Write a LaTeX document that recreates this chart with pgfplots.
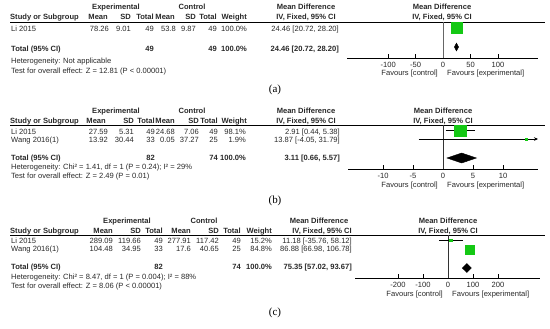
\documentclass[border=0pt]{standalone}
\usepackage{fontspec}
\setmainfont{Liberation Sans}
\newfontfamily\capfont{Liberation Serif}
\usepackage{pgfplots}
\pgfplotsset{compat=1.18}
\usetikzlibrary{arrows.meta}
\definecolor{fgreen}{RGB}{20,200,20}
\definecolor{txt}{RGB}{40,40,40}
\tikzset{t/.style={inner sep=0pt,text=txt,font=\fontsize{7.6}{8}\selectfont}}
\newcommand\txL[3]{\node[t,anchor=base west] at (#1,{-(#2)-2.7}) {#3};}
\newcommand\txR[3]{\node[t,anchor=base east] at (#1,{-(#2)-2.7}) {#3};}
\newcommand\txC[3]{\node[t,anchor=base] at (#1,{-(#2)-2.7}) {#3};}
\pgfplotsset{forest/.style={scale only axis, anchor=south west, clip=false,
  axis x line=bottom, axis y line=none, x axis line style={-, line width=0.6bp},
  tick align=inside, major tick length=4bp, xtick style={line width=0.6bp, black},
  x tick label style={inner sep=0pt, yshift=-4.5bp, text=txt, font=\fontsize{7.6}{8}\selectfont}}}
\begin{document}
\begin{tikzpicture}[x=1bp,y=1bp]
\path[use as bounding box] (0,0) rectangle (550,-328);
% ================= (a) =================
\txC{116}{7}{\bfseries Experimental}
\txC{192}{7}{\bfseries Control}
\txC{306}{7}{\bfseries Mean Difference}
\txC{442}{7}{\bfseries Mean Difference}
\txL{10}{17}{\bfseries Study or Subgroup}
\txR{108}{17}{\bfseries Mean}
\txR{131}{17}{\bfseries SD}
\txR{154}{17}{\bfseries Total}
\txR{175}{17}{\bfseries Mean}
\txR{196}{17}{\bfseries SD}
\txR{217}{17}{\bfseries Total}
\txR{247}{17}{\bfseries Weight}
\txR{336}{17}{\bfseries IV, Fixed, 95\% CI}
\txC{442}{17}{\bfseries IV, Fixed, 95\% CI}
\draw[line width=0.6bp] (10,-22) -- (545,-22);
\txL{11}{29}{Li 2015}
\txR{109}{29}{78.26}
\txR{131}{29}{9.01}
\txR{154}{29}{49}
\txR{176}{29}{53.8}
\txR{196}{29}{9.87}
\txR{217}{29}{49}
\txR{247}{29}{100.0\%}
\txR{339}{29}{24.46 [20.72, 28.20]}
\txL{11}{49}{\bfseries Total (95\% CI)}
\txR{154}{49}{\bfseries 49}
\txR{217}{49}{\bfseries 49}
\txR{247}{49}{\bfseries 100.0\%}
\txR{339}{49}{\bfseries 24.46 [20.72, 28.20]}
\txL{11}{61}{Heterogeneity: Not applicable}
\txL{11}{71}{Test for overall effect: Z = 12.81 (P < 0.00001)}
\txR{438}{73}{Favours [control]}
\txL{447}{73}{Favours [experimental]}
\node[font=\capfont\fontsize{11}{12}\selectfont, inner sep=0pt] at (275,-90) {(a)};
\begin{axis}[forest, at={(347bp,-58bp)}, width=191bp, height=36bp,
  xmin=-175, xmax=173, ymin=-58, ymax=-22,
  xtick={-100,-50,0,50,100}, xticklabels={-100,-50,0,50,100}]
\addplot[black!60, line width=0.6bp] coordinates {(0,-22) (0,-58)};
\addplot[black, line width=0.5bp] coordinates {(20.72,-27.7) (28.20,-27.7)};
\addplot[only marks, mark=square*, mark size=5.5bp, mark options={fill=fgreen, draw=fgreen}] coordinates {(24.46,-27.7)};
\addplot[fill=black, draw=black] coordinates {(20.72,-47) (24.46,-43) (28.20,-47) (24.46,-51)} --cycle;
\end{axis}
% ================= (b) =================
\txC{116}{111}{\bfseries Experimental}
\txC{192}{111}{\bfseries Control}
\txC{306}{111}{\bfseries Mean Difference}
\txC{443}{111}{\bfseries Mean Difference}
\txL{10}{121}{\bfseries Study or Subgroup}
\txR{106}{121}{\bfseries Mean}
\txR{134}{121}{\bfseries SD}
\txR{155}{121}{\bfseries Total}
\txR{175}{121}{\bfseries Mean}
\txR{199}{121}{\bfseries SD}
\txR{218}{121}{\bfseries Total}
\txR{247}{121}{\bfseries Weight}
\txR{336}{121}{\bfseries IV, Fixed, 95\% CI}
\txC{443}{121}{\bfseries IV, Fixed, 95\% CI}
\draw[line width=0.6bp] (10,-125) -- (545,-125);
\txL{11}{132}{Li 2015}
\txR{108}{132}{27.59}
\txR{134}{132}{5.31}
\txR{155}{132}{49}
\txR{175}{132}{24.68}
\txR{199}{132}{7.06}
\txR{218}{132}{49}
\txR{246}{132}{98.1\%}
\txR{340}{132}{2.91 [0.44, 5.38]}
\txL{11}{140}{Wang 2016(1)}
\txR{108}{140}{13.92}
\txR{134}{140}{30.44}
\txR{155}{140}{33}
\txR{175}{140}{0.05}
\txR{199}{140}{37.27}
\txR{218}{140}{25}
\txR{246}{140}{1.9\%}
\txR{340}{140}{13.87 [-4.05, 31.79]}
\txL{11}{158}{\bfseries Total (95\% CI)}
\txR{155}{158}{\bfseries 82}
\txR{218}{158}{\bfseries 74}
\txR{246}{158}{\bfseries 100.0\%}
\txR{340}{158}{\bfseries 3.11 [0.66, 5.57]}
\txL{11}{167}{Heterogeneity: Chi² = 1.41, df = 1 (P = 0.24); I² = 29\%}
\txL{11}{176}{Test for overall effect: Z = 2.49 (P = 0.01)}
\txR{438}{185}{Favours [control]}
\txL{447}{185}{Favours [experimental]}
\node[font=\capfont\fontsize{11}{12}\selectfont, inner sep=0pt] at (275,-201) {(b)};
\begin{axis}[forest, at={(348bp,-169bp)}, width=190bp, height=44bp,
  xmin=-15.83, xmax=15.83, ymin=-169, ymax=-125,
  xtick={-10,-5,0,5,10}, xticklabels={-10,-5,0,5,10}]
\addplot[black!80, line width=0.6bp] coordinates {(0,-125) (0,-169)};
\addplot[black, line width=0.5bp] coordinates {(0.44,-130.5) (5.38,-130.5)};
\addplot[only marks, mark=square*, mark size=5.8bp, mark options={fill=fgreen, draw=fgreen}] coordinates {(2.91,-130.5)};
\addplot[black, line width=0.5bp, -{Stealth[length=4bp,width=3.5bp]}] coordinates {(-4.05,-139) (15.83,-139)};
\addplot[only marks, mark=square*, mark size=0.8bp, mark options={fill=fgreen, draw=fgreen}] coordinates {(13.87,-139)};
\addplot[fill=black, draw=black] coordinates {(0.66,-158) (3.11,-153) (5.57,-158) (3.11,-163)} --cycle;
\end{axis}
% ================= (c) =================
\txC{127}{221}{\bfseries Experimental}
\txC{204}{221}{\bfseries Control}
\txC{319}{221}{\bfseries Mean Difference}
\txC{448}{221}{\bfseries Mean Difference}
\txL{10}{231}{\bfseries Study or Subgroup}
\txR{113}{231}{\bfseries Mean}
\txR{141}{231}{\bfseries SD}
\txR{163}{231}{\bfseries Total}
\txR{191}{231}{\bfseries Mean}
\txR{219}{231}{\bfseries SD}
\txR{241}{231}{\bfseries Total}
\txR{272}{231}{\bfseries Weight}
\txR{352}{231}{\bfseries IV, Fixed, 95\% CI}
\txC{448}{231}{\bfseries IV, Fixed, 95\% CI}
\draw[line width=0.6bp] (10,-235) -- (545,-235);
\txL{11}{241}{Li 2015}
\txR{113}{241}{289.09}
\txR{141}{241}{119.66}
\txR{163}{241}{49}
\txR{191}{241}{277.91}
\txR{219}{241}{117.42}
\txR{241}{241}{49}
\txR{272}{241}{15.2\%}
\txR{352}{241}{11.18 [-35.76, 58.12]}
\txL{11}{249}{Wang 2016(1)}
\txR{113}{249}{104.48}
\txR{141}{249}{34.95}
\txR{163}{249}{33}
\txR{191}{249}{17.6}
\txR{219}{249}{40.65}
\txR{241}{249}{25}
\txR{272}{249}{84.8\%}
\txR{352}{249}{86.88 [66.98, 106.78]}
\txL{11}{267}{\bfseries Total (95\% CI)}
\txR{163}{267}{\bfseries 82}
\txR{241}{267}{\bfseries 74}
\txR{272}{267}{\bfseries 100.0\%}
\txR{352}{267}{\bfseries 75.35 [57.02, 93.67]}
\txL{11}{277}{Heterogeneity: Chi² = 8.47, df = 1 (P = 0.004); I² = 88\%}
\txL{11}{286}{Test for overall effect: Z = 8.06 (P < 0.00001)}
\txR{443}{294}{Favours [control]}
\txL{452}{294}{Favours [experimental]}
\node[font=\capfont\fontsize{11}{12}\selectfont, inner sep=0pt] at (275,-313) {(c)};
\begin{axis}[forest, at={(355bp,-278bp)}, width=185bp, height=43bp,
  xmin=-372, xmax=368, ymin=-278, ymax=-235,
  xtick={-200,-100,0,100,200}, xticklabels={-200,-100,0,100,200}]
\addplot[black!80, line width=0.6bp] coordinates {(0,-235) (0,-278)};
\addplot[black, line width=0.5bp] coordinates {(-35.76,-240) (58.12,-240)};
\addplot[only marks, mark=square*, mark size=1.3bp, mark options={fill=fgreen, draw=fgreen}] coordinates {(11.18,-240)};
\addplot[black, line width=0.5bp] coordinates {(66.98,-249.5) (106.78,-249.5)};
\addplot[only marks, mark=square*, mark size=4.6bp, mark options={fill=fgreen, draw=fgreen}] coordinates {(86.88,-249.5)};
\addplot[fill=black, draw=black] coordinates {(57.02,-268) (75.35,-263.5) (93.67,-268) (75.35,-272.5)} --cycle;
\end{axis}
\end{tikzpicture}
\end{document}
